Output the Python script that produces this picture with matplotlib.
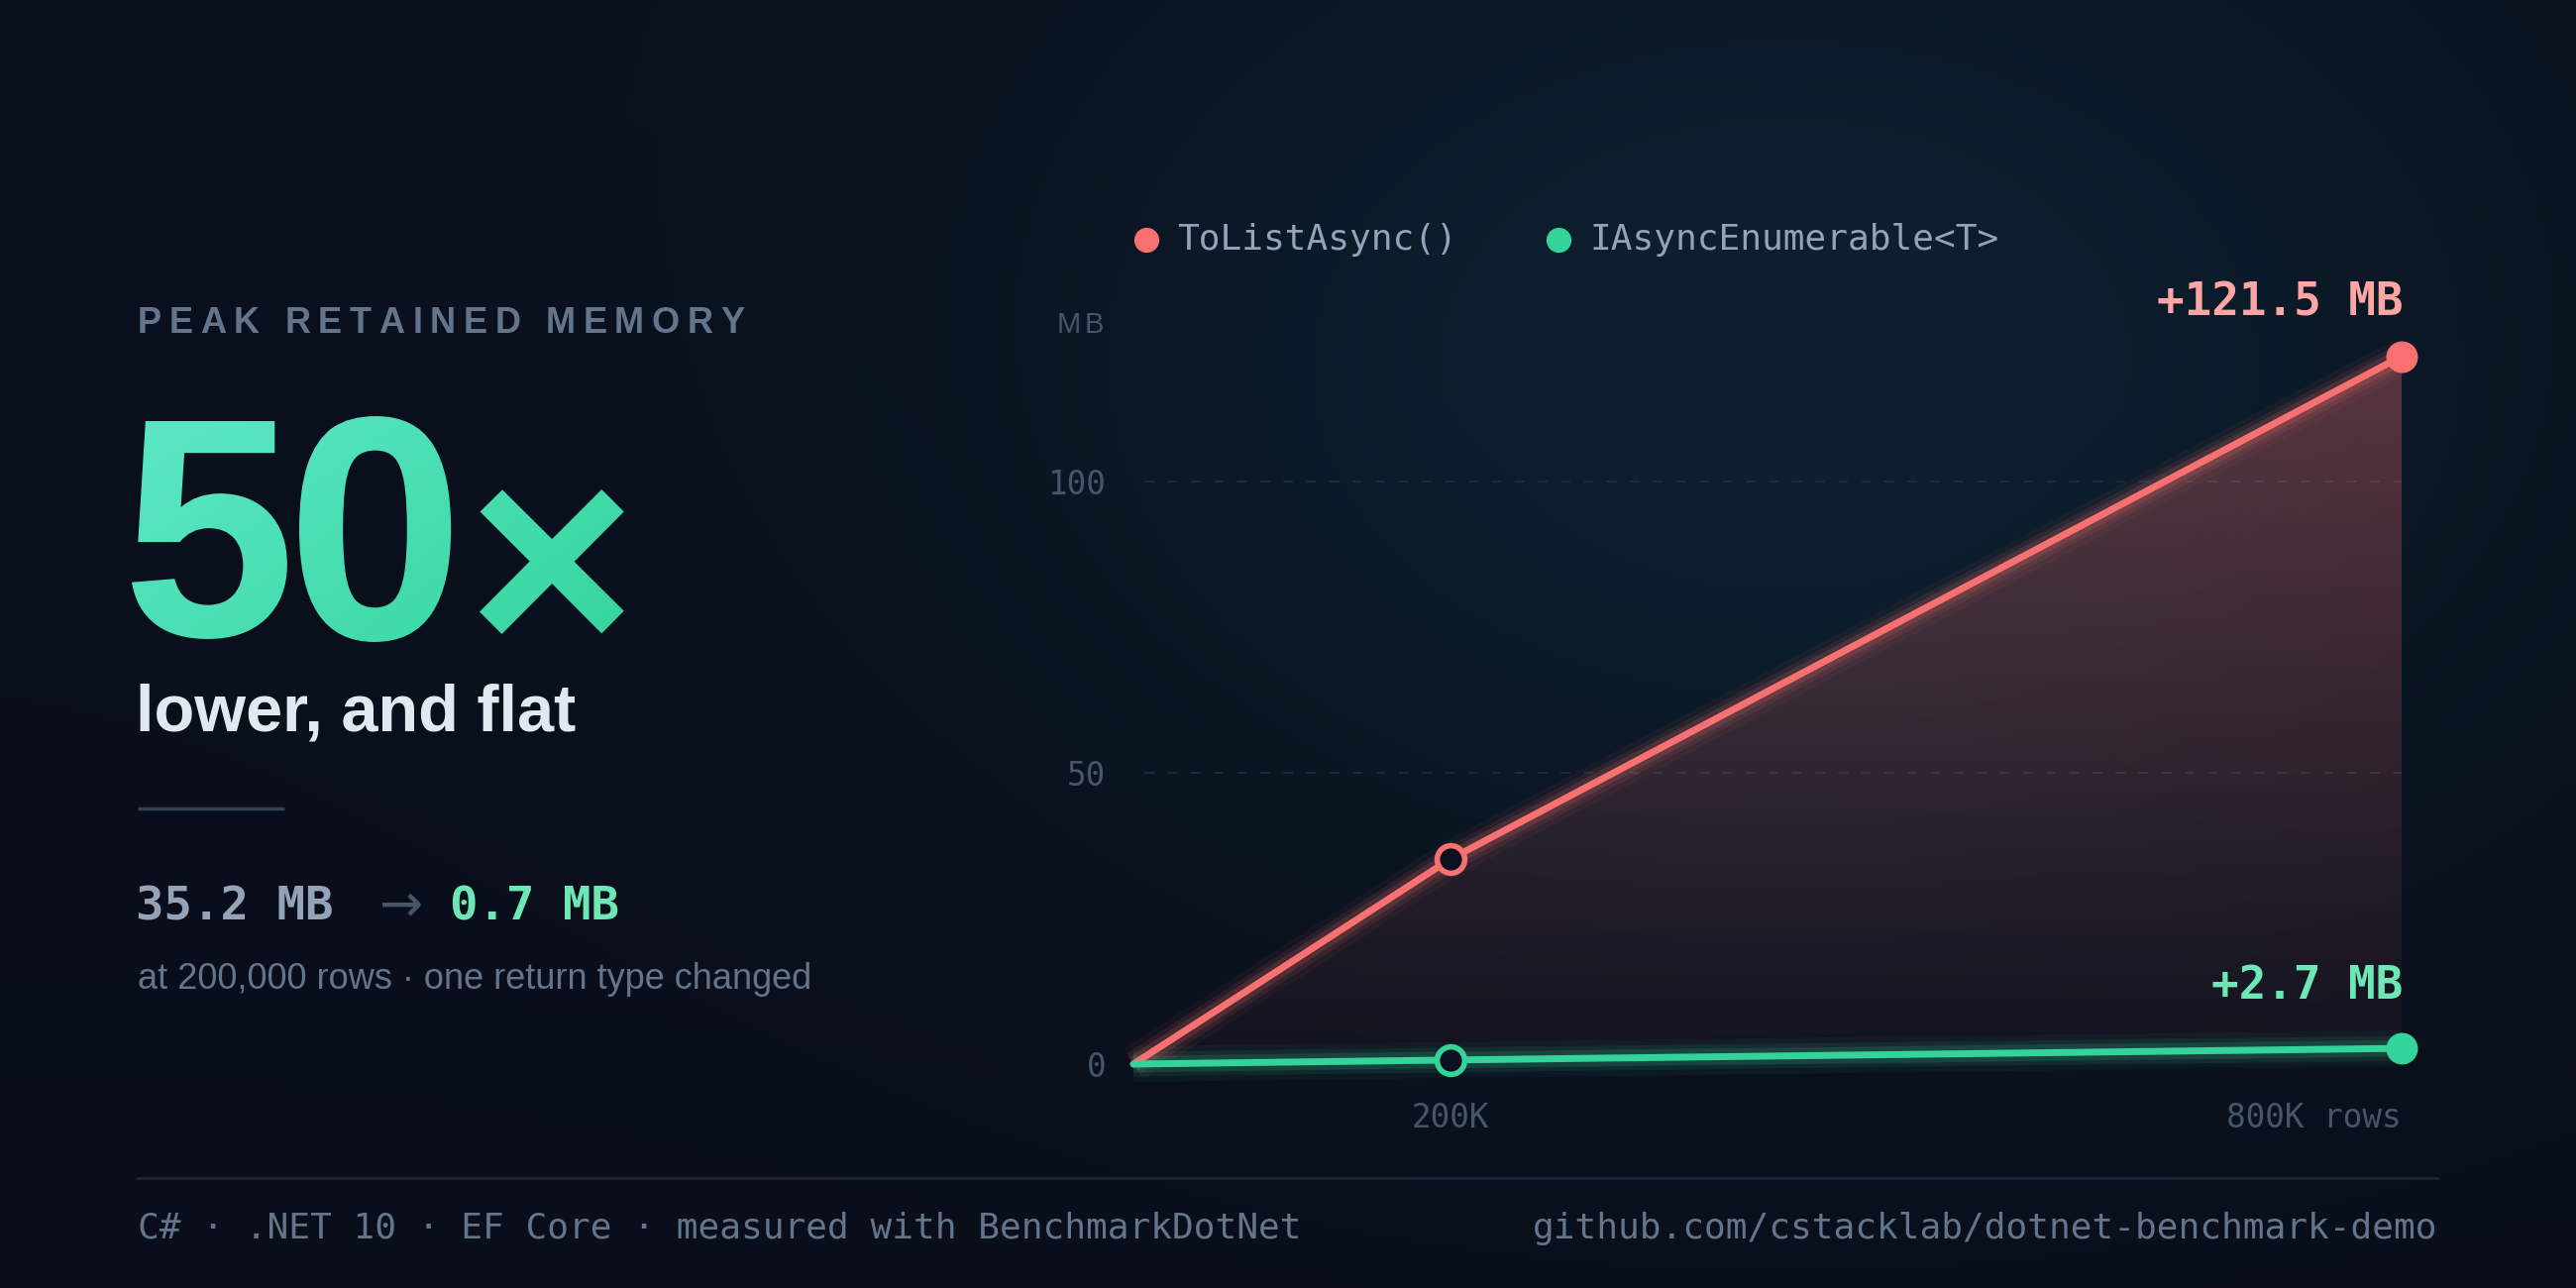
import numpy as np
import matplotlib
matplotlib.use("Agg")
import matplotlib.pyplot as plt
from matplotlib.textpath import TextPath
from matplotlib.font_manager import FontProperties, findfont, get_font
from matplotlib.patches import PathPatch
from matplotlib.path import Path
from matplotlib.transforms import Affine2D
from matplotlib.colors import to_rgb

# data
rows_k = [0, 200, 800]
tolist_mb = [0, 35.2, 121.5]
stream_mb = [0, 0.7, 2.7]
series_names = ["ToListAsync()", "IAsyncEnumerable<T>"]
y_ticks = [0, 50, 100]
x_ticks = [200, 800]
x_tick_labels = ["200K", "800K rows"]
peak_labels = ["+121.5 MB", "+2.7 MB"]

RED = "#f87171"
GREEN = "#34d399"
W, H, DPI = 2600, 1300, 100
MONO = "DejaVu Sans Mono"
SANS = "Liberation Sans"

fig = plt.figure(figsize=(W / DPI, H / DPI), dpi=DPI)

# full-figure axes in pixel coords (y down) for background and free text
bg = fig.add_axes([0, 0, 1, 1], zorder=-10)
bg.set_xlim(0, W)
bg.set_ylim(H, 0)
bg.axis("off")

yy, xx = np.mgrid[0:H:4, 0:W:4]
base = np.array(to_rgb("#0b101e"))
glow = np.array(to_rgb("#0d2432"))
d2 = ((xx - 1800) / 750.0) ** 2 + ((yy - 400) / 520.0) ** 2
wgt = np.exp(-d2)[..., None] * 0.9
img = base * (1 - wgt) + glow * wgt
img *= (1 - 0.12 * (yy / H))[..., None]
bg.imshow(img, extent=(0, W, H, 0), aspect="auto", zorder=0, interpolation="bilinear")


def ftxt(x, y, s, **kw):
    return fig.text(x / W, 1 - y / H, s, **kw)


def spaced(s, x, y, size, spacing, family=SANS, weight="bold", **kw):
    prop = FontProperties(family=family, weight=weight, size=size)
    font = get_font(findfont(prop))
    font.set_size(size, DPI)
    for ch in s:
        ftxt(x, y, ch, fontproperties=prop, ha="left", va="center", **kw)
        x += font.load_char(ord(ch)).linearHoriAdvance / 65536 + spacing


# left panel
spaced("PEAK RETAINED MEMORY", 139, 327, 26, 7.6, color="#64748b")

# big gradient "50x": glyph, ink-left, ink-bottom, ink-height
prop_big = FontProperties(family=SANS, weight="bold")
paths = []
for ch, left, bottom, height in [("5", 133, 645, 220), ("0", 302, 648, 228),
                                 ("\u00d7", 484, 640, 146)]:
    tp = TextPath((0, 0), ch, size=100, prop=prop_big)
    ext = tp.get_extents()
    s = height / ext.height
    tr = Affine2D().translate(-ext.x0, -ext.y0).scale(s, -s).translate(left, bottom)
    paths.append(tr.transform_path(tp))
big = Path.make_compound_path(*paths)
patch = PathPatch(big, transform=bg.transData, facecolor="none", edgecolor="none")
bg.add_patch(patch)
gy, gx = np.mgrid[0:1:200j, 0:1:200j]
t = (gx * 0.6 + gy * 0.4)[..., None]
c0, c1 = np.array(to_rgb("#5de8c8")), np.array(to_rgb("#35d49c"))
grad = c0 * (1 - t) + c1 * t
gim = bg.imshow(grad, extent=(125, 645, 655, 410), aspect="auto", zorder=2)
gim.set_clip_path(patch)

ftxt(137, 720, "lower, and flat", fontsize=48, fontweight="bold", family=SANS,
     color="#e2e8f0", va="center", ha="left")
bg.plot([139, 287], [816, 816], color="#334155", lw=2.5, solid_capstyle="butt")

ftxt(137, 916, "35.2 MB", fontsize=34, fontweight="bold", family=MONO,
     color="#94a3b8", va="center", ha="left")
ftxt(383, 914, "\u2192", fontsize=38, family="DejaVu Sans", color="#475569",
     va="center", ha="left")
ftxt(454, 916, "0.7 MB", fontsize=34, fontweight="bold", family=MONO,
     color="#6ee7b7", va="center", ha="left")
ftxt(139, 988, "at 200,000 rows \u00b7 one return type changed", fontsize=26,
     family=SANS, color="#64748b", va="center", ha="left")

# footer
bg.plot([139, 2460], [1189, 1189], color="#1c2536", lw=2)
ftxt(139, 1240, "C# \u00b7 .NET 10 \u00b7 EF Core \u00b7 measured with BenchmarkDotNet",
     fontsize=26, family=MONO, color="#64748b", va="center", ha="left")
ftxt(2460, 1240, "github.com/cstacklab/dotnet-benchmark-demo",
     fontsize=26, family=MONO, color="#64748b", va="center", ha="right")

# legend
for name, col, dx, tx in [(series_names[0], RED, 1157, 1188), (series_names[1], GREEN, 1573, 1604)]:
    bg.scatter([dx], [242], s=330, color=col, zorder=3, linewidths=0)
    ftxt(tx, 242, name, fontsize=26, family=MONO, color="#94a3b8", va="center", ha="left")

# chart axes
x0_px, x1_px, y0_px, ppu = 1144, 2424, 1074, 5.88
ymax = 130
ax = fig.add_axes([x0_px / W, (H - y0_px) / H, (x1_px - x0_px) / W, ymax * ppu / H])
ax.set_facecolor("none")
ax.set_xlim(0, 800)
ax.set_ylim(0, ymax)
for sp in ax.spines.values():
    sp.set_visible(False)

ax.hlines([50, 100], -7.5, 800, colors="#1f2a3b", lw=1.4, linestyles=(0, (5, 7)), zorder=1)

# red area gradient
poly_x = rows_k + [rows_k[-1], rows_k[0]]
poly_y = tolist_mb + [0, 0]
area = ax.fill(poly_x, poly_y, facecolor="none", edgecolor="none")[0]
ga = np.linspace(0, 1, 256)[:, None]
ga = np.repeat(ga, 2, axis=1)
rgba = np.zeros((256, 2, 4))
rgba[..., :3] = to_rgb(RED)
rgba[..., 3] = 0.03 + 0.30 * ga
aim = ax.imshow(rgba, extent=(0, 800, 0, max(tolist_mb)), origin="lower",
                aspect="auto", zorder=2)
aim.set_clip_path(area)

# glow lines
for lw, a in [(26, 0.05), (18, 0.09), (12, 0.15)]:
    ax.plot(rows_k, tolist_mb, color=RED, lw=lw, alpha=a, solid_capstyle="butt",
            zorder=3, clip_on=False)
    ax.plot(rows_k, stream_mb, color=GREEN, lw=lw, alpha=a, solid_capstyle="butt",
            zorder=3, clip_on=False)

ax.plot(rows_k, tolist_mb, color=RED, lw=5, solid_capstyle="round", zorder=4, clip_on=False)
ax.plot(rows_k, stream_mb, color=GREEN, lw=5, solid_capstyle="round", zorder=4, clip_on=False)

for ys, col in [(tolist_mb, RED), (stream_mb, GREEN)]:
    ax.plot(rows_k[1], ys[1], "o", ms=20, mfc="#0b1120", mec=col, mew=4, zorder=5, clip_on=False)
    ax.plot(rows_k[2], ys[2], "o", ms=22, color=col, zorder=5, clip_on=False)

# peak labels
ax.annotate(peak_labels[0], (rows_k[2], tolist_mb[2]), xytext=(1.5, 54),
            textcoords="offset pixels", ha="right", va="center", fontsize=33,
            fontweight="bold", family=MONO, color="#fca5a5")
ax.annotate(peak_labels[1], (rows_k[2], stream_mb[2]), xytext=(1.5, 63),
            textcoords="offset pixels", ha="right", va="center", fontsize=33,
            fontweight="bold", family=MONO, color="#6ee7b7")

# ticks
ax.set_yticks(y_ticks)
ax.set_yticklabels([str(v) for v in y_ticks])
ax.set_xticks(x_ticks)
ax.set_xticklabels(x_tick_labels)
ax.tick_params(length=0, labelsize=23.5, labelcolor="#475569")
ax.tick_params(axis="y", pad=20)
ax.tick_params(axis="x", pad=27)
for lab in ax.get_xticklabels() + ax.get_yticklabels():
    lab.set_family(MONO)
ax.get_xticklabels()[-1].set_ha("right")

spaced("MB", 1067, 328, 21, 3, weight="normal", color="#475569")

fig.savefig("out.png", dpi=DPI, facecolor="#0b101e")
